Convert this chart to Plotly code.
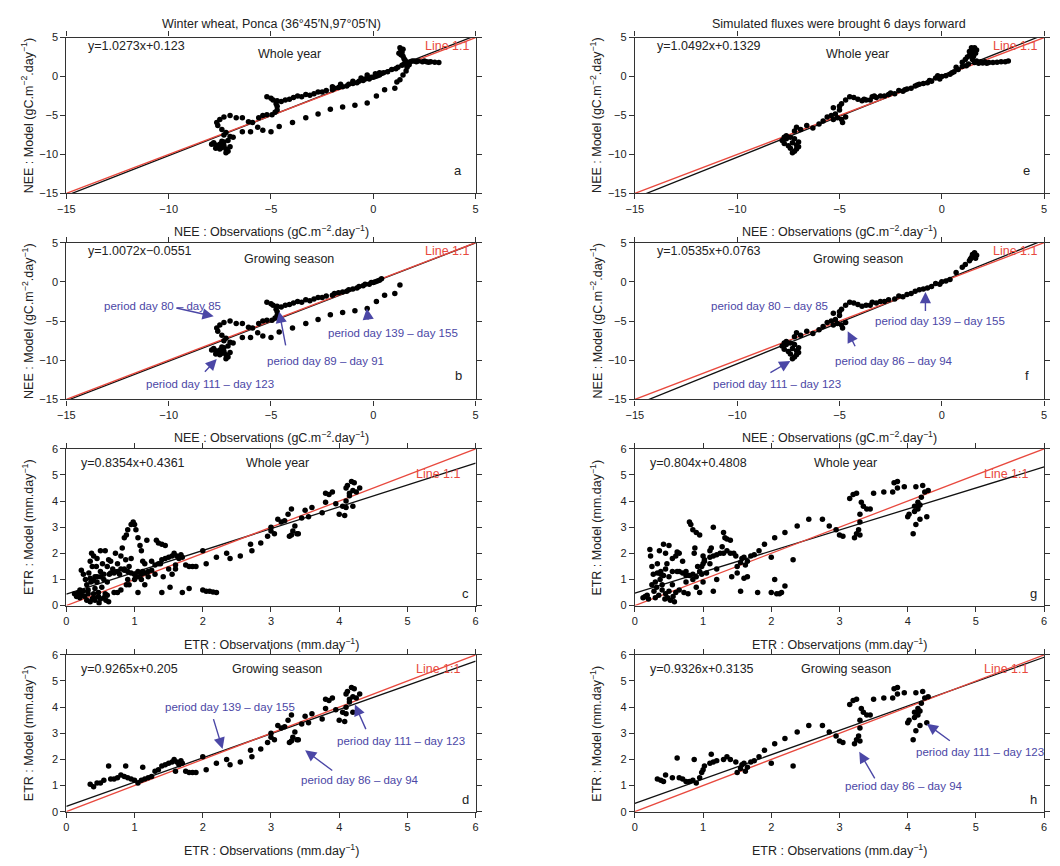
import plotly.graph_objects as go

# ---------------- DATA ----------------
nee_gs_left = [  # panel b, growing season
    (-7.8, -8.5), (-7.7, -8.8), (-7.6, -9.0), (-7.5, -8.7), (-7.4, -9.1), (-7.3, -8.9), (-7.2, -9.3),
    (-7.1, -9.6), (-7.2, -9.8), (-7.3, -8.4), (-7.0, -9.0), (-7.1, -8.2), (-7.5, -9.3), (-7.7, -9.2),
    (-7.9, -8.7), (-7.4, -8.3),
    (-7.3, -7.5), (-7.2, -7.2), (-7.4, -6.8), (-7.6, -6.3), (-7.65, -5.9), (-7.5, -5.5), (-7.3, -5.2),
    (-7.0, -5.0), (-6.7, -5.3), (-6.4, -5.3), (-7.0, -7.7), (-6.85, -7.8),
    (-6.1, -5.8), (-5.9, -5.9), (-5.6, -5.3), (-5.4, -5.0), (-5.2, -4.9), (-4.95, -4.9), (-4.8, -4.6),
    (-4.7, -4.3), (-4.7, -3.8), (-4.75, -3.5),
    (-5.2, -2.6), (-5.0, -2.8), (-4.9, -3.0), (-4.7, -3.1), (-4.5, -3.2), (-4.3, -3.0), (-4.1, -2.9),
    (-3.9, -2.7), (-3.7, -2.5), (-3.5, -2.6), (-3.3, -2.3), (-3.1, -2.4), (-2.9, -2.2), (-2.7, -2.0),
    (-2.5, -2.0), (-2.3, -1.8), (-2.0, -1.7), (-1.9, -1.5), (-1.7, -1.4), (-1.5, -1.3), (-1.3, -1.2),
    (-1.2, -1.0), (-1.0, -0.9), (-0.8, -0.8), (-0.7, -0.6), (-0.5, -0.5), (-0.4, -0.3), (-0.2, -0.3),
    (-0.1, -0.1), (0.0, -0.1), (0.1, 0.0), (0.2, 0.1), (0.3, 0.2), (0.4, 0.4),
    (-6.4, -7.1), (-6.0, -7.1), (-5.65, -6.5), (-5.4, -6.9), (-5.0, -7.1), (-4.6, -6.4), (-3.95, -5.9),
    (-3.3, -5.3), (-2.7, -4.8), (-2.1, -4.2), (-1.5, -3.9), (-0.9, -3.7), (-0.3, -3.4), (0.15, -2.5),
    (0.55, -1.7), (1.05, -1.5), (1.3, -0.4),
]
nee_off_left = [  # extra points of panel a (outside growing season)
    (0.5, 0.5), (0.7, 0.6), (0.9, 0.9), (1.1, 1.0), (1.2, 1.2), (1.3, 3.7), (1.35, 3.4), (1.4, 3.1),
    (1.35, 2.8), (1.45, 2.6), (1.5, 2.3), (1.55, 2.1), (1.6, 1.9), (1.7, 1.7), (1.8, 1.9), (1.9, 2.0),
    (2.0, 2.0), (2.1, 1.9), (2.2, 2.0), (2.4, 1.9), (2.6, 1.9), (2.8, 1.9), (3.0, 1.85), (3.2, 1.8),
    (1.45, 0.2), (1.6, 0.7), (1.65, 1.2), (1.5, 1.6), (1.4, 1.45), (1.25, 3.0), (1.45, 3.5), (-0.3, 0.2),
    (0.1, 0.35), (0.3, 0.5), (-0.6, -0.2), (-1.0, -0.6), (1.15, -0.7), (2.5, 2.0), (2.7, 1.85),
    (1.75, 1.5), (-2.0, -1.3), (-1.6, -1.0),
]
nee_gs_right = [  # panel f, growing season, simulated fluxes shifted 6 days
    (-7.8, -8.2), (-7.7, -8.6), (-7.6, -8.0), (-7.5, -8.9), (-7.4, -9.2), (-7.3, -8.5), (-7.2, -9.6),
    (-7.1, -9.3), (-7.0, -9.0), (-7.2, -8.0), (-7.6, -7.6), (-7.4, -7.8), (-7.0, -8.4), (-7.3, -9.8),
    (-7.7, -7.8), (-7.1, -8.8),
    (-7.2, -7.0), (-7.1, -6.5), (-6.9, -6.8), (-6.6, -6.3), (-6.3, -6.6), (-6.0, -6.1), (-5.8, -5.7),
    (-5.6, -5.2), (-5.4, -5.0), (-5.2, -4.8), (-5.1, -5.3), (-5.0, -4.3), (-5.3, -4.0), (-5.0, -3.8),
    (-4.9, -3.5), (-4.7, -3.0), (-4.5, -2.6), (-4.3, -2.7), (-4.1, -2.9), (-3.9, -3.1), (-3.7, -3.0),
    (-3.5, -3.0), (-3.4, -2.6), (-3.2, -2.7), (-3.0, -2.5), (-2.8, -2.5), (-2.6, -2.3), (-2.3, -2.2),
    (-2.1, -1.8), (-1.9, -1.9), (-1.7, -1.6), (-1.5, -1.5), (-1.3, -1.2), (-1.1, -1.0), (-0.9, -0.9),
    (-0.7, -0.8), (-0.5, -0.6), (-0.3, -0.2), (-0.1, -0.3), (0.0, 0.0), (0.2, 0.1), (0.4, 0.3),
    (-4.9, -5.5), (-4.85, -5.9), (-4.7, -5.2), (-5.3, -5.5),
    (0.7, 1.2), (1.0, 1.85), (1.15, 2.2), (1.35, 2.7), (1.45, 3.1), (1.5, 3.5), (1.6, 3.7), (1.55, 3.3),
    (1.7, 3.4), (1.65, 3.0), (1.4, 2.9),
]
nee_off_right = [  # extra points of panel e
    (1.5, 2.2), (1.7, 2.0), (1.9, 1.9), (2.1, 1.9), (2.3, 1.8), (2.5, 1.8), (2.7, 1.85), (2.9, 1.9),
    (3.1, 1.9), (3.25, 2.0), (1.0, 1.3), (1.2, 1.4), (1.3, 1.6), (0.6, 0.6), (0.8, 0.9), (0.5, 0.5),
    (1.8, 1.7), (2.0, 1.75), (2.2, 1.7), (1.6, 1.8), (1.25, 2.5), (1.35, 3.2), (1.45, 3.7), (1.55, 2.6),
    (-3.8, -2.9), (-3.3, -2.5), (-2.5, -2.1), (-1.8, -1.7), (-1.2, -1.1), (-0.6, -0.5), (-0.2, 0.1),
]

# ETR (mm.day-1): (observation, model) pairs
etr_gs_left = [  # panel d
    (0.35, 1.05), (0.4, 0.95), (0.45, 1.1), (0.5, 1.1), (0.55, 1.2), (0.62, 1.75), (0.65, 1.25),
    (0.7, 1.25), (0.75, 1.3), (0.8, 1.4), (0.85, 1.35), (0.87, 1.75), (0.9, 1.3), (0.95, 1.25),
    (1.0, 1.2), (1.05, 1.1), (1.1, 1.2), (1.12, 1.7), (1.15, 1.25), (1.2, 1.3), (1.25, 1.35),
    (1.3, 1.55), (1.35, 1.6), (1.4, 1.75), (1.45, 1.8), (1.5, 1.85), (1.55, 1.9), (1.58, 2.0),
    (1.6, 1.55), (1.62, 1.9), (1.65, 1.8), (1.68, 1.95), (1.7, 1.85), (1.75, 1.55), (1.8, 1.5),
    (1.85, 1.5), (1.9, 1.5), (2.0, 2.1), (2.05, 1.6), (2.2, 1.85), (2.35, 2.0), (2.4, 1.8),
    (2.55, 1.9), (2.7, 2.35), (2.72, 2.1), (2.85, 2.4), (2.95, 2.65), (3.0, 3.0), (3.0, 2.85),
    (3.05, 2.75), (3.1, 3.3), (3.15, 3.2), (3.2, 3.25), (3.25, 3.5), (3.27, 2.65), (3.3, 3.7),
    (3.3, 2.7), (3.32, 2.85), (3.35, 3.05), (3.38, 2.75), (3.4, 2.75), (3.45, 3.35), (3.5, 3.65),
    (3.55, 3.4), (3.6, 3.75), (3.75, 3.55), (3.8, 3.95), (3.8, 4.3), (3.85, 4.25), (3.9, 4.35),
    (3.95, 3.9), (4.0, 3.5), (4.05, 3.8), (4.08, 3.45), (4.1, 4.0), (4.1, 4.5), (4.12, 4.6),
    (4.15, 4.3), (4.18, 4.75), (4.2, 3.8), (4.2, 4.4), (4.22, 4.7), (4.25, 4.35), (4.3, 4.5),
    (4.1, 3.75), (4.15, 4.2),
]
etr_off_left = [  # extra points of panel c
    (0.12, 0.45), (0.15, 0.35), (0.18, 0.5), (0.2, 0.3), (0.22, 0.4), (0.25, 0.55), (0.22, 1.35),
    (0.25, 1.2), (0.28, 1.0), (0.3, 0.8), (0.3, 0.2), (0.32, 0.6), (0.35, 0.15), (0.35, 1.7),
    (0.37, 2.0), (0.38, 1.5), (0.4, 1.9), (0.4, 0.3), (0.42, 1.1), (0.42, 0.2), (0.45, 0.9),
    (0.45, 1.8), (0.47, 0.5), (0.48, 0.1), (0.5, 2.1), (0.5, 1.3), (0.5, 0.25), (0.52, 0.7),
    (0.55, 1.0), (0.55, 0.3), (0.57, 2.1), (0.58, 0.2), (0.6, 0.4), (0.6, 1.5), (0.62, 0.15),
    (0.63, 1.2), (0.65, 1.7), (0.68, 1.4), (0.7, 1.3), (0.72, 2.0), (0.75, 1.6), (0.75, 0.5),
    (0.78, 1.2), (0.8, 1.9), (0.8, 0.6), (0.82, 2.2), (0.85, 1.4), (0.85, 2.6), (0.88, 2.7),
    (0.9, 1.0), (0.9, 2.9), (0.92, 0.8), (0.95, 3.1), (0.98, 3.2), (1.0, 3.1), (1.0, 1.2),
    (1.02, 2.9), (1.05, 2.6), (1.05, 0.5), (1.08, 2.3), (1.1, 1.0), (1.1, 2.1), (1.12, 1.3),
    (1.15, 1.6), (1.15, 0.8), (1.18, 2.5), (1.2, 1.1), (1.25, 1.7), (1.3, 1.2), (1.32, 2.5),
    (1.35, 2.4), (1.38, 1.6), (1.4, 2.35), (1.4, 0.5), (1.42, 1.1), (1.45, 2.3), (1.5, 1.4),
    (1.52, 0.7), (1.55, 1.2), (1.6, 1.4), (1.7, 0.5), (1.8, 0.65), (2.0, 0.6), (2.05, 0.55),
    (2.1, 0.55), (2.15, 0.52), (2.2, 0.5), (0.92, 1.5), (0.95, 1.8), (1.0, 1.0), (1.05, 1.3),
    (0.88, 0.8), (0.7, 0.5), (0.6, 0.9), (0.42, 0.65), (0.32, 0.45),
    (0.27, 0.35), (0.33, 1.25), (0.36, 0.9), (0.44, 1.5), (0.47, 0.35), (0.53, 1.6), (0.4, 0.45),
    (0.57, 0.45), (0.2, 0.6), (0.38, 0.25),
]
etr_gs_right = [  # panel h
    (0.33, 1.25), (0.38, 1.2), (0.42, 1.15), (0.45, 1.4), (0.55, 1.3), (0.62, 2.05), (0.65, 1.3),
    (0.7, 1.25), (0.75, 1.15), (0.8, 1.15), (0.85, 1.2), (0.87, 2.0), (0.9, 1.1), (0.95, 1.3),
    (0.98, 1.5), (1.0, 1.6), (1.02, 1.75), (1.1, 1.85), (1.12, 2.2), (1.15, 1.9), (1.2, 1.95),
    (1.3, 2.0), (1.35, 2.1), (1.4, 2.0), (1.48, 1.9), (1.5, 1.5), (1.55, 1.65), (1.57, 1.8),
    (1.6, 1.85), (1.62, 1.55), (1.65, 1.7), (1.7, 1.9), (1.75, 1.95), (1.82, 2.1), (1.9, 2.35),
    (2.0, 1.85), (2.05, 2.6), (2.2, 2.8), (2.32, 1.75), (2.38, 3.05), (2.55, 3.3), (2.75, 3.3),
    (2.85, 3.05), (2.95, 2.9), (3.0, 2.7), (3.05, 2.65), (3.15, 4.1), (3.2, 4.25), (3.25, 4.3),
    (3.22, 2.6), (3.25, 2.75), (3.28, 2.9), (3.3, 2.7), (3.3, 3.2), (3.3, 3.5), (3.32, 3.95),
    (3.35, 3.8), (3.4, 3.7), (3.45, 3.7), (3.5, 4.3), (3.65, 4.35), (3.78, 4.35), (3.8, 4.7),
    (3.85, 4.75), (3.85, 4.5), (3.95, 4.55), (4.0, 3.4), (4.02, 3.5), (4.08, 2.75), (4.1, 3.6),
    (4.12, 3.1), (4.1, 3.8), (4.12, 4.55), (4.15, 3.95), (4.15, 3.7), (4.18, 3.3), (4.2, 4.15),
    (4.22, 4.6), (4.25, 4.35), (4.28, 3.4), (4.3, 4.4), (4.15, 3.8), (4.18, 3.85),
]
etr_off_right = [  # extra points of panel g
    (0.12, 0.3), (0.15, 0.35), (0.2, 0.25), (0.22, 2.15), (0.23, 1.9), (0.25, 1.5), (0.27, 1.2),
    (0.3, 0.9), (0.3, 0.3), (0.32, 0.7), (0.35, 0.4), (0.37, 1.0), (0.38, 1.3), (0.4, 0.6),
    (0.42, 2.35), (0.45, 2.0), (0.47, 1.6), (0.48, 0.3), (0.5, 1.1), (0.5, 2.3), (0.52, 0.2),
    (0.55, 0.8), (0.55, 1.8), (0.58, 0.15), (0.6, 0.5), (0.6, 1.9), (0.62, 1.3), (0.65, 2.0),
    (0.7, 1.7), (0.72, 0.5), (0.75, 1.3), (0.78, 0.45), (0.8, 3.2), (0.82, 3.1), (0.85, 2.9),
    (0.88, 2.2), (0.9, 2.8), (0.92, 1.5), (0.95, 2.7), (0.95, 0.5), (0.98, 1.2), (1.0, 1.9),
    (1.0, 0.9), (1.02, 1.7), (1.05, 1.25), (1.1, 1.6), (1.15, 3.0), (1.15, 0.55), (1.2, 1.0),
    (1.25, 2.0), (1.28, 2.25), (1.3, 2.8), (1.32, 2.6), (1.35, 2.55), (1.4, 2.5), (1.42, 1.1),
    (1.45, 2.0), (1.5, 1.25), (1.55, 0.55), (1.6, 1.05), (1.65, 1.1), (1.8, 0.5), (2.0, 0.5),
    (2.05, 1.0), (2.08, 0.45), (2.12, 0.45), (2.15, 0.5), (2.2, 0.75), (0.85, 1.0), (0.75, 0.9),
    (0.65, 0.6), (0.45, 0.45), (1.2, 1.4), (1.1, 2.1), (0.9, 0.7),
    (0.18, 0.4), (0.28, 0.55), (0.33, 1.6), (0.4, 0.8), (0.44, 0.25), (0.5, 0.55), (0.56, 0.35),
    (0.36, 2.1), (0.25, 0.8),
]

# Regression lines (slope, intercept) per panel
panel_letters = ["a", "b", "c", "d", "e", "f", "g", "h"]
slopes = [1.0273, 1.0072, 0.8354, 0.9265, 1.0492, 1.0535, 0.804, 0.9326]
intercepts = [0.123, -0.0551, 0.4361, 0.205, 0.1329, 0.0763, 0.4808, 0.3135]
equation_labels = ["y=1.0273x+0.123", "y=1.0072x\u22120.0551", "y=0.8354x+0.4361", "y=0.9265x+0.205",
                   "y=1.0492x+0.1329", "y=1.0535x+0.0763", "y=0.804x+0.4808", "y=0.9326x+0.3135"]
season_labels = ["Whole year", "Growing season", "Whole year", "Growing season",
                 "Whole year", "Growing season", "Whole year", "Growing season"]
panel_points = [nee_gs_left + nee_off_left, nee_gs_left, etr_gs_left + etr_off_left, etr_gs_left,
                nee_gs_right + nee_off_right, nee_gs_right, etr_gs_right + etr_off_right, etr_gs_right]
panel_kind = ["NEE", "NEE", "ETR", "ETR", "NEE", "NEE", "ETR", "ETR"]

# ---------------- LAYOUT ----------------
W, H = 1060, 866
XL = [0.0547, 0.4453]
XR = [0.5972, 0.9877]
YD = [[0.7806, 0.963], [0.5393, 0.7229], [0.2979, 0.4815], [0.0566, 0.2402]]
FONT = "Liberation Sans, Arial, Helvetica, sans-serif"
RED = "#e8493e"
BLUE = "#4b47a6"
INK = "#222222"

fig = go.Figure()
layout = dict(width=W, height=H, margin=dict(l=0, r=0, t=0, b=0), paper_bgcolor="white",
              plot_bgcolor="white", showlegend=False, font=dict(family=FONT, color=INK, size=11))
annotations = []

for i, letter in enumerate(panel_letters):
    n = i + 1
    xs = "" if n == 1 else str(n)
    xname, yname = "x" + xs, "y" + xs
    xdom = XL if i < 4 else XR
    ydom = YD[i % 4]
    kind = panel_kind[i]
    rng = [-15, 5] if kind == "NEE" else [0, 6]
    dt = 5 if kind == "NEE" else 1
    axcommon = dict(range=rng, dtick=dt, showgrid=False, zeroline=False, showline=True,
                    linecolor="#333333", linewidth=1.2, mirror="ticks", ticks="outside", ticklen=5,
                    tickcolor="#333333", tickwidth=1.1, tickfont=dict(size=11, family=FONT, color=INK))
    layout["xaxis" + xs] = dict(domain=xdom, anchor=yname, **axcommon)
    layout["yaxis" + xs] = dict(domain=ydom, anchor=xname, **axcommon)

    # regression line (black) and line 1:1 (red), across the axis range
    fig.add_trace(go.Scatter(x=rng, y=[slopes[i] * v + intercepts[i] for v in rng], mode="lines",
                             line=dict(color="#111111", width=1.3), xaxis=xname, yaxis=yname,
                             hoverinfo="skip"))
    fig.add_trace(go.Scatter(x=rng, y=rng, mode="lines", line=dict(color=RED, width=1.3),
                             xaxis=xname, yaxis=yname, hoverinfo="skip"))
    pts = panel_points[i]
    fig.add_trace(go.Scatter(x=[p[0] for p in pts], y=[p[1] for p in pts], mode="markers",
                             marker=dict(color="black", size=5.5, line=dict(width=0)),
                             xaxis=xname, yaxis=yname))

    xd, yd = xname + " domain", yname + " domain"
    if kind == "NEE":
        eq_x, eq_y, se_x, se_y = 0.048, 0.945, 0.545, 0.895
        ln_x, ln_y = 0.99, 0.945
        let_x, let_y = 0.958, 0.15
    else:
        eq_x, eq_y, se_x, se_y = 0.032, 0.91, 0.515, 0.91
        ln_x, ln_y = (0.968, 0.842) if season_labels[i] == "Whole year" else (0.968, 0.912)
        let_x, let_y = 0.975, 0.08
    annotations += [
        dict(text=equation_labels[i], x=eq_x, y=eq_y, xref=xd, yref=yd, xanchor="left",
             yanchor="middle", showarrow=False, font=dict(size=12.5)),
        dict(text=season_labels[i], x=se_x, y=se_y, xref=xd, yref=yd, xanchor="center",
             yanchor="middle", showarrow=False, font=dict(size=12.5)),
        dict(text="Line 1:1", x=ln_x, y=ln_y, xref=xd, yref=yd, xanchor="right",
             yanchor="middle", showarrow=False, font=dict(size=12.5, color=RED)),
        dict(text=letter, x=let_x, y=let_y, xref=xd, yref=yd, xanchor="center",
             yanchor="middle", showarrow=False, font=dict(size=13)),
    ]

    # axis titles
    xlab_y = [0.7367, 0.4954, 0.2529, 0.0115][i % 4]
    xlab = ("NEE : Observations (gC.m<sup>\u22122</sup>.day<sup>\u22121</sup>)" if kind == "NEE"
            else "ETR : Observations (mm.day<sup>\u22121</sup>)")
    if i % 4 == 1:
        xlab = "NEE : Observations (gC.m<sup>\u22122</sup>.day<sup>\u22121</sup>)"
    annotations.append(dict(text=xlab, x=(xdom[0] + xdom[1]) / 2, y=xlab_y, xref="paper",
                            yref="paper", xanchor="center", yanchor="middle", showarrow=False,
                            font=dict(size=12.5)))
    ylab = ("NEE : Model (gC.m<sup>\u22122</sup>.day<sup>\u22121</sup>)" if kind == "NEE"
            else "ETR : Model (mm.day<sup>\u22121</sup>)")
    annotations.append(dict(text=ylab, x=(0.018 if i < 4 else 0.5605), y=(ydom[0] + ydom[1]) / 2,
                            xref="paper", yref="paper", xanchor="center", yanchor="middle",
                            textangle=-90, showarrow=False, font=dict(size=12.5)))

# top titles
annotations.append(dict(text="Winter wheat, Ponca (36°45\u2032N,97°05\u2032N)", x=sum(XL) / 2, y=0.979,
                        xref="paper", yref="paper", xanchor="center", yanchor="middle",
                        showarrow=False, font=dict(size=12.5)))
annotations.append(dict(text="Simulated fluxes were brought 6 days forward", x=sum(XR) / 2, y=0.979,
                        xref="paper", yref="paper", xanchor="center", yanchor="middle",
                        showarrow=False, font=dict(size=12.5)))

# period annotations: (panel index, text, text x, text y, tail x, tail y, tip x, tip y)
period_notes = [
    (1, "period day 80 \u2013 day 85", -10.3, -3.1, -9.7, -3.3, -7.8, -4.4),
    (1, "period day 111 \u2013 day 123", -8.0, -13.0, -8.3, -11.65, -7.65, -9.85),
    (1, "period day 89 \u2013 day 91", -2.35, -10.1, -4.27, -8.3, -4.6, -3.8),
    (1, "period day 139 \u2013 day 155", 0.95, -6.5, -0.24, -5.0, -0.32, -3.4),
    (5, "period day 80 \u2013 day 85", -8.4, -3.1, None, None, None, None),
    (5, "period day 111 \u2013 day 123", -8.05, -13.0, -8.45, -11.7, -7.4, -10.1),
    (5, "period day 86 \u2013 day 94", -2.35, -10.1, -4.2, -8.4, -4.6, -6.3),
    (5, "period day 139 \u2013 day 155", -0.1, -5.0, -0.8, -3.9, -0.8, -1.3),
    (3, "period day 139 \u2013 day 155", 2.4, 4.0, 2.15, 3.6, 2.29, 2.4),
    (3, "period day 111 \u2013 day 123", 4.9, 2.7, 4.4, 3.1, 4.23, 4.1),
    (3, "period day 86 \u2013 day 94", 4.3, 1.2, 3.92, 1.53, 3.5, 2.35),
    (7, "period day 86 \u2013 day 94", 3.94, 0.97, 3.53, 1.22, 3.29, 2.29),
    (7, "period day 111 \u2013 day 123", 5.06, 2.29, 4.64, 2.67, 4.28, 3.36),
]
for (pi, txt, tx, ty, ax_, ay_, hx, hy) in period_notes:
    n = pi + 1
    xs = "" if n == 1 else str(n)
    xname, yname = "x" + xs, "y" + xs
    annotations.append(dict(text=txt, x=tx, y=ty, xref=xname, yref=yname, showarrow=False,
                            font=dict(size=11.5, color=BLUE)))
    if ax_ is not None:
        annotations.append(dict(text="", x=hx, y=hy, ax=ax_, ay=ay_, xref=xname, yref=yname,
                                axref=xname, ayref=yname, showarrow=True, arrowhead=2,
                                arrowsize=1.6, arrowwidth=1.4, arrowcolor=BLUE))

layout["annotations"] = annotations
fig.update_layout(**layout)
fig.write_html("out.html", config={"displayModeBar": False},
               post_script="document.body.style.margin='0px';")
